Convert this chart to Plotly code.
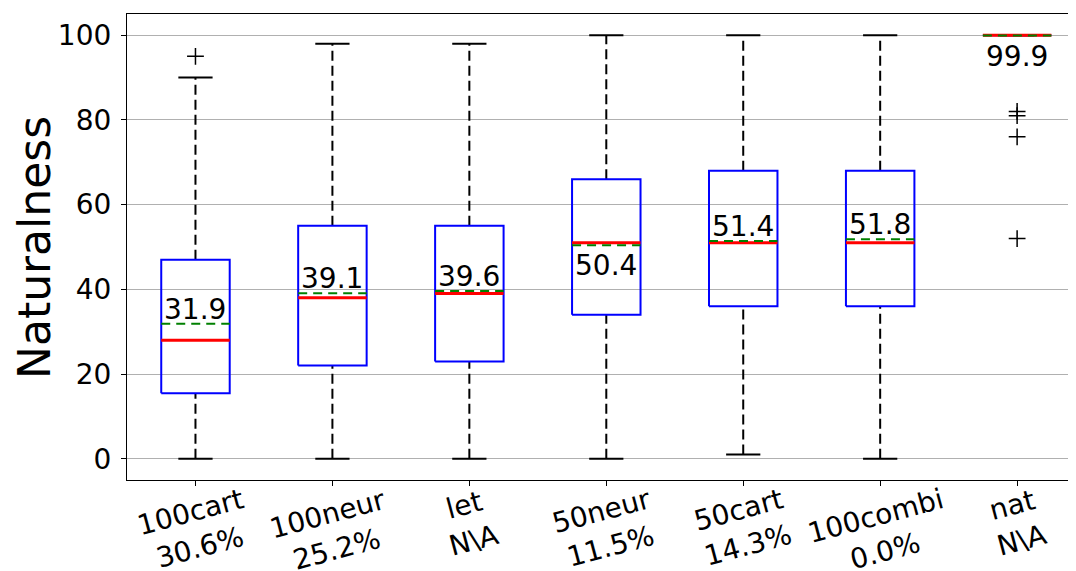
import plotly.graph_objects as go

# ---- data ----
categories = ["100cart", "100neur", "let", "50neur", "50cart", "100combi", "nat"]
percentages = ["30.6%", "25.2%", "N\\A", "11.5%", "14.3%", "0.0%", "N\\A"]
whisker_low = [0, 0, 0, 0, 1, 0, 100]
q1 = [15.5, 22, 23, 34, 36, 36, 100]
median = [28, 38, 39, 51, 51, 51, 100]
q3 = [47, 55, 55, 66, 68, 68, 100]
whisker_high = [90, 98, 98, 100, 100, 100, 100]
means = [31.9, 39.1, 39.6, 50.4, 51.4, 51.8, 99.9]
outliers = [[95], [], [], [], [], [], [82, 81, 76, 52]]

FONT = "DejaVu Sans"
BOX_HW = 0.25
CAP_HW = 0.125
xpos = list(range(1, len(categories) + 1))

fig = go.Figure()

# whiskers (dashed)
wx, wy = [], []
for x, lo, a, b, hi in zip(xpos, whisker_low, q1, q3, whisker_high):
    wx += [x, x, None, x, x, None]
    wy += [lo, a, None, b, hi, None]
fig.add_trace(go.Scatter(x=wx, y=wy, mode="lines",
                         line=dict(color="black", width=2, dash="10px,5px"),
                         hoverinfo="skip", showlegend=False))
# caps
cx, cy = [], []
for x, lo, hi in zip(xpos, whisker_low, whisker_high):
    cx += [x - CAP_HW, x + CAP_HW, None, x - CAP_HW, x + CAP_HW, None]
    cy += [lo, lo, None, hi, hi, None]
fig.add_trace(go.Scatter(x=cx, y=cy, mode="lines",
                         line=dict(color="black", width=2),
                         hoverinfo="skip", showlegend=False))
# boxes
bx, by = [], []
for x, a, b in zip(xpos, q1, q3):
    bx += [x - BOX_HW, x + BOX_HW, x + BOX_HW, x - BOX_HW, x - BOX_HW, None]
    by += [a, a, b, b, a, None]
fig.add_trace(go.Scatter(x=bx, y=by, mode="lines",
                         line=dict(color="blue", width=2),
                         hoverinfo="skip", showlegend=False))
# medians
mx, my = [], []
for x, m in zip(xpos, median):
    mx += [x - BOX_HW, x + BOX_HW, None]
    my += [m, m, None]
fig.add_trace(go.Scatter(x=mx, y=my, mode="lines",
                         line=dict(color="red", width=3),
                         hoverinfo="skip", showlegend=False))
# means
ex, ey = [], []
for x, m in zip(xpos, means):
    ex += [x - BOX_HW, x + BOX_HW, None]
    ey += [m, m, None]
fig.add_trace(go.Scatter(x=ex, y=ey, mode="lines",
                         line=dict(color="green", width=2, dash="9px,6px"),
                         hoverinfo="skip", showlegend=False))
# outliers
ox, oy = [], []
for x, outs in zip(xpos, outliers):
    for v in outs:
        ox.append(x)
        oy.append(v)
fig.add_trace(go.Scatter(x=ox, y=oy, mode="markers",
                         marker=dict(symbol="cross-thin", size=12,
                                     line=dict(color="black", width=1.5)),
                         hoverinfo="skip", showlegend=False))

annotations = []
# mean value labels
for x, m, md in zip(xpos, means, median):
    above = m > md
    annotations.append(dict(
        x=x, y=m, xref="x", yref="y", text=f"{m:.1f}", showarrow=False,
        xanchor="center", yanchor="bottom" if above else "top",
        yshift=-4 if above else -2,
        font=dict(family=FONT, size=28, color="black")))
# category tick labels (rotated)
for x, c, p in zip(xpos, categories, percentages):
    annotations.append(dict(
        x=x, y=0, xref="x", yref="paper", text=f"{c}<br>{p}",
        showarrow=False, textangle=-15, xanchor="center", yanchor="top",
        yshift=0,
        font=dict(family=FONT, size=28, color="black")))
# y title
annotations.append(dict(
    x=-0.098, y=0.5, xref="paper", yref="paper", text="Naturalness",
    showarrow=False, textangle=-90, xanchor="center", yanchor="middle",
    font=dict(family=FONT, size=44, color="black")))

# page body has an 8px margin: figure is drawn at (8, 8)
fig.update_layout(
    width=1068, height=563, autosize=False,
    margin=dict(l=119, r=0, t=6, b=91),
    paper_bgcolor="white", plot_bgcolor="white",
    font=dict(family=FONT, size=28, color="black"),
    annotations=annotations,
    xaxis=dict(range=[0.5, 7.43], tickvals=xpos, ticktext=[""] * len(xpos),
               showgrid=False, zeroline=False, showline=True, mirror=True,
               linecolor="black", linewidth=1.2, ticks="outside", ticklen=5,
               tickwidth=1.2, tickcolor="black"),
    yaxis=dict(range=[-5, 105], tickvals=[0, 20, 40, 60, 80, 100],
               showgrid=True, gridcolor="#b0b0b0", gridwidth=1, zeroline=False,
               showline=True, mirror=False, linecolor="black", linewidth=1.2,
               ticks="outside", ticklen=5, tickwidth=1.2, tickcolor="black",
               ticklabelstandoff=4,
               tickfont=dict(family=FONT, size=28, color="black")),
)

fig.write_html("out.html")
